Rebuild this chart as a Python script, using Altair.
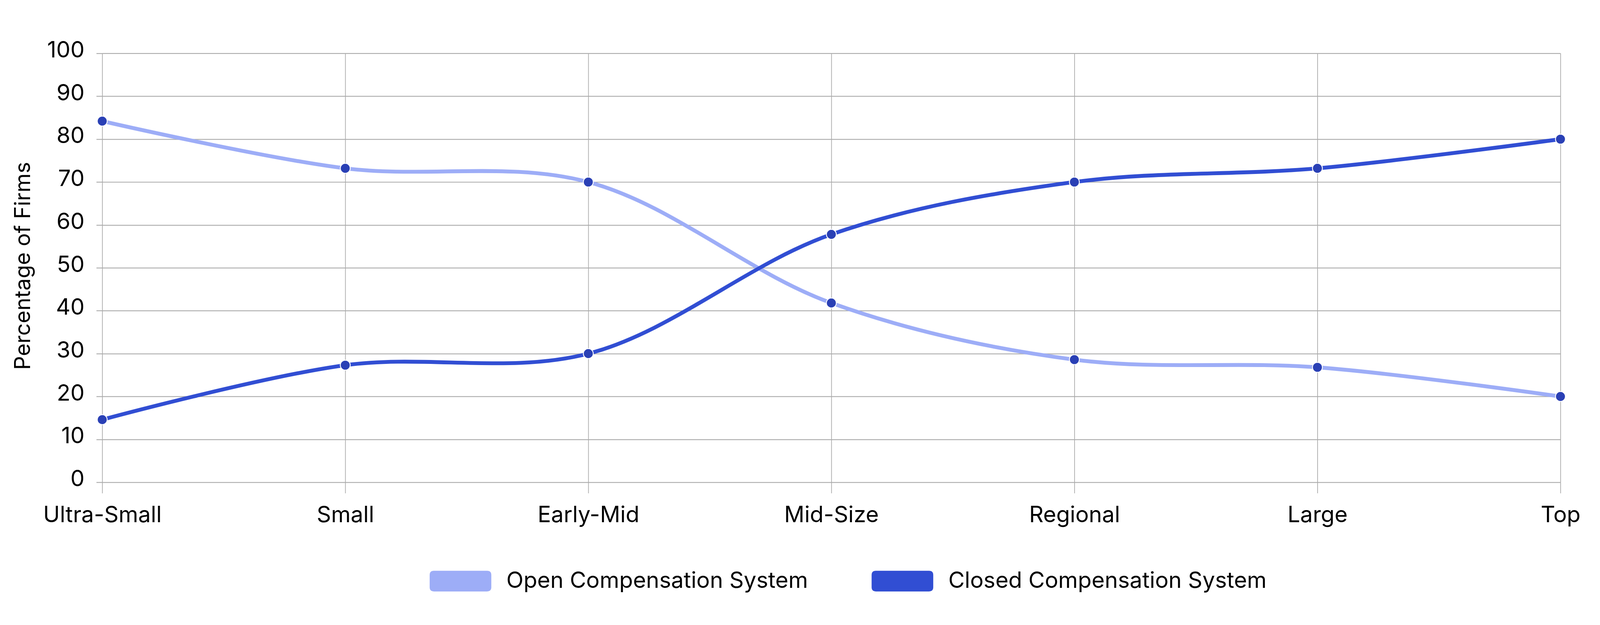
import altair as alt
import pandas as pd

categories = ["Ultra-Small", "Small", "Early-Mid", "Mid-Size", "Regional", "Large", "Top"]
open_values = [84.2, 73.2, 70.0, 41.8, 28.6, 26.8, 20.0]
closed_values = [14.6, 27.3, 30.0, 57.8, 70.0, 73.2, 80.0]
series_names = ["Open Compensation System", "Closed Compensation System"]
series_colors = ["#9dadf7", "#314ed3"]
marker_color = "#2a40b5"
y_ticks = list(range(0, 101, 10))

rows = []
for name, vals in zip(series_names, [open_values, closed_values]):
    for c, v in zip(categories, vals):
        rows.append({"firm": c, "series": name, "pct": v})
df = pd.DataFrame(rows)

FONT = "Inter"
GRID = "#ababab"
# rounded rectangle swatch, wider than the nominal symbol box
legend_shape = ("M-2.452,-0.952 L2.452,-0.952 Q2.839,-0.952 2.839,-0.565 L2.839,0.565 "
                "Q2.839,0.952 2.452,0.952 L-2.452,0.952 Q-2.839,0.952 -2.839,0.565 "
                "L-2.839,-0.565 Q-2.839,-0.952 -2.452,-0.952 Z")

x_enc = alt.X(
    "firm:N",
    sort=categories,
    scale=alt.Scale(type="point", range=[0, 4164], padding=0),
    axis=alt.Axis(
        title=None, labelAngle=0, labelFontSize=64, labelFont=FONT, labelColor="black",
        tickSize=31, tickWidth=2, tickColor=GRID, gridWidth=2, gridColor=GRID,
        labelPadding=82, labelBaseline="alphabetic", domain=False, grid=True,
        labelLimit=3000,
    ),
)
y_enc = alt.Y(
    "pct:Q",
    scale=alt.Scale(domain=[0, 100], nice=False),
    axis=alt.Axis(
        values=y_ticks, title="Percentage of Firms", titleFontSize=62, titleFont=FONT,
        titleFontWeight="normal", titleColor="black", titleX=-207, titleY=606,
        titleBaseline="alphabetic", titleAlign="center", titleAngle=270,
        labelFontSize=64, labelFont=FONT, labelColor="black", labelPadding=34,
        labelBaseline="alphabetic", labelOffset=11,
        tickSize=17, tickWidth=2.5, tickColor=GRID, gridWidth=2.5, gridColor=GRID,
        domain=False, grid=True,
    ),
)

base = alt.Chart(df).encode(x=x_enc, y=y_enc)

# stroke scale listed in reverse order so its (disabled) legend is not merged
# with the swatch legend below
lines = base.mark_line(interpolate="catmull-rom", strokeWidth=11).encode(
    stroke=alt.Stroke(
        "series:N",
        scale=alt.Scale(domain=series_names[::-1], range=series_colors[::-1]),
        legend=None,
    )
)

points = base.mark_circle(
    size=800, opacity=1, color=marker_color, stroke="white", strokeWidth=2.5
).encode(detail="series:N")

legend_layer = alt.Chart(df).transform_filter("false").mark_point(
    filled=True, shape=legend_shape, size=3844, opacity=1
).encode(
    fill=alt.Fill(
        "series:N", sort=series_names,
        scale=alt.Scale(domain=series_names, range=series_colors),
        legend=alt.Legend(
            title=None, orient="none", legendX=991, legendY=1474,
            direction="horizontal", symbolType=legend_shape, symbolSize=3844,
            symbolStrokeWidth=0, labelFontSize=64, labelFont=FONT, labelColor="black",
            labelOffset=99, columnPadding=180, padding=0, labelLimit=3000,
        ),
    )
)

chart = alt.layer(lines, points, legend_layer).properties(
    width=4192,
    height=1224,
    autosize=alt.AutoSizeParams(type="none"),
    padding={"left": 283, "top": 52, "right": 76, "bottom": 307},
).configure_view(stroke=None)

chart.save("out.html", embed_options={"renderer": "svg", "actions": False})
